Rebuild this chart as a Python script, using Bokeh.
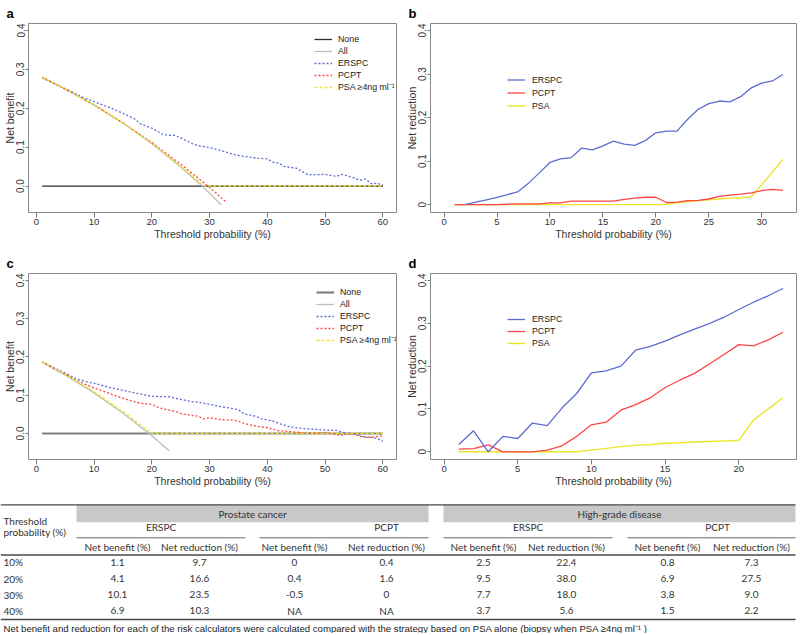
from bokeh.plotting import figure
from bokeh.models import Range1d, FixedTicker, Legend, LegendItem
from bokeh.layouts import column, row
from bokeh.embed import file_html
from bokeh.resources import INLINE
from bokeh.core.properties import value

# ---------------- data ----------------
# Panel a: prostate cancer, net benefit
a_none_x = [1, 60]
a_none_y = [0.0, 0.0]
a_all_x = [1, 5, 10, 15, 20, 25, 29, 32]
a_all_y = [0.280, 0.250, 0.208, 0.162, 0.109, 0.049, -0.004, -0.048]
a_erspc_x = [1, 5, 8, 10, 13, 15, 17, 18, 20, 22, 24, 25, 27, 28, 30, 32, 34, 36, 38, 40,
             41, 42, 43, 45, 47, 50, 52, 53, 55, 56, 57, 58, 59, 60]
a_erspc_y = [0.278, 0.250, 0.229, 0.217, 0.200, 0.187, 0.173, 0.160, 0.149, 0.132, 0.130, 0.124,
             0.109, 0.104, 0.099, 0.091, 0.082, 0.076, 0.072, 0.070, 0.061, 0.059, 0.050, 0.046,
             0.029, 0.030, 0.025, 0.030, 0.021, 0.015, 0.018, 0.006, 0.007, 0.003]
a_pcpt_x = [1, 5, 10, 15, 20, 25, 28, 30, 31, 32, 33]
a_pcpt_y = [0.280, 0.249, 0.209, 0.162, 0.112, 0.056, 0.021, -0.004, -0.016, -0.030, -0.043]
a_psa_x = [1, 5, 10, 15, 20, 25, 28, 29, 60]
a_psa_y = [0.280, 0.250, 0.209, 0.162, 0.111, 0.051, 0.014, 0.0, 0.0]

# Panel b: prostate cancer, net reduction
b_erspc_x = list(range(2, 33))
b_erspc_y = [0.0, 0.006, 0.011, 0.017, 0.023, 0.030, 0.050, 0.073, 0.097, 0.105, 0.108, 0.130,
             0.126, 0.135, 0.146, 0.139, 0.136, 0.147, 0.165, 0.169, 0.169, 0.196, 0.219, 0.232,
             0.238, 0.236, 0.248, 0.268, 0.279, 0.284, 0.299]
b_pcpt_x = list(range(1, 33))
b_pcpt_y = [0.0, 0.0, 0.0, 0.0, 0.0, 0.001, 0.002, 0.002, 0.002, 0.004, 0.004, 0.008, 0.008,
            0.008, 0.008, 0.008, 0.012, 0.015, 0.017, 0.017, 0.005, 0.006, 0.009, 0.010, 0.013,
            0.019, 0.022, 0.024, 0.027, 0.032, 0.035, 0.033]
b_psa_x = list(range(1, 33))
b_psa_y = [0.0, 0.0, 0.0, 0.0, 0.0, 0.0, 0.0, 0.0, 0.0, 0.0, 0.0, 0.0, 0.0, 0.0, 0.0, 0.0,
           0.0, 0.0, 0.0, 0.0, 0.001, 0.004, 0.007, 0.009, 0.011, 0.013, 0.015, 0.016, 0.018,
           0.046, 0.075, 0.104]

# Panel c: high-grade disease, net benefit
c_none_x = [1, 60]
c_none_y = [0.0, 0.0]
c_all_x = [1, 5, 10, 15, 20, 23]
c_all_y = [0.187, 0.153, 0.106, 0.053, -0.006, -0.045]
c_erspc_x = [1, 3, 5, 7, 9, 10, 12, 13, 15, 17, 19, 20, 23, 25, 27, 28, 30, 32, 34, 35, 36, 38,
             39, 40, 41, 42, 43, 44, 46, 48, 50, 52, 53, 54, 56, 57, 58, 59, 60]
c_erspc_y = [0.187, 0.172, 0.158, 0.142, 0.134, 0.131, 0.123, 0.119, 0.113, 0.106, 0.100, 0.097,
             0.096, 0.089, 0.083, 0.082, 0.076, 0.070, 0.065, 0.062, 0.051, 0.045, 0.038, 0.036,
             0.032, 0.026, 0.022, 0.017, 0.013, 0.011, 0.009, 0.008, 0.003, 0.0, -0.004, -0.010,
             -0.010, -0.013, -0.020]
c_pcpt_x = [1, 3, 5, 7, 9, 10, 12, 14, 16, 18, 20, 21, 22, 24, 25, 27, 28, 29, 30, 32, 34, 35,
            36, 38, 40, 41, 42, 44, 46, 48, 50, 51, 52, 53, 54, 55, 56, 58, 60]
c_pcpt_y = [0.187, 0.169, 0.155, 0.138, 0.125, 0.119, 0.108, 0.097, 0.087, 0.079, 0.076, 0.069,
            0.064, 0.058, 0.052, 0.047, 0.045, 0.038, 0.041, 0.036, 0.035, 0.032, 0.026, 0.019,
            0.015, 0.011, 0.007, 0.005, 0.002, 0.001, 0.003, 0.0, -0.003, -0.004, 0.0, -0.001,
            -0.008, -0.010, -0.006]
c_psa_x = [1, 5, 10, 15, 20, 60]
c_psa_y = [0.187, 0.155, 0.109, 0.057, 0.0, 0.0]

# Panel d: high-grade disease, net reduction
d_x = list(range(1, 24))
d_erspc_y = [0.017, 0.049, 0.0, 0.036, 0.031, 0.067, 0.061, 0.102, 0.136, 0.184, 0.189, 0.200,
             0.237, 0.246, 0.258, 0.273, 0.286, 0.299, 0.314, 0.332, 0.349, 0.364, 0.381]
d_pcpt_y = [0.006, 0.0075, 0.016, 0.0, 0.0, 0.0, 0.004, 0.014, 0.036, 0.063, 0.069, 0.097, 0.110,
            0.126, 0.150, 0.167, 0.183, 0.205, 0.227, 0.250, 0.247, 0.261, 0.279]
d_psa_y = [0.0, 0.0, 0.0, 0.0, 0.0, 0.0, 0.0, 0.0, 0.0, 0.004, 0.008, 0.012, 0.015, 0.017, 0.020,
           0.021, 0.023, 0.024, 0.025, 0.027, 0.074, 0.100, 0.126]

# Axis ticks
nb_xticks = [0, 10, 20, 30, 40, 50, 60]
b_xticks = [0, 5, 10, 15, 20, 25, 30]
d_xticks = [0, 5, 10, 15, 20]
yticks = [0.0, 0.1, 0.2, 0.3, 0.4]
nb_ylabels = ["0.0", "0.1", "0.2", "0.3", "0.4"]
nr_ylabels = ["0", "0.1", "0.2", "0.3", "0.4"]

# Table
tbl_thresholds = ["10%", "20%", "30%", "40%"]
pc_erspc_nb = ["1.1", "4.1", "10.1", "6.9"]
pc_erspc_nr = ["9.7", "16.6", "23.5", "10.3"]
pc_pcpt_nb = ["0", "0.4", "-0.5", "NA"]
pc_pcpt_nr = ["0.4", "1.6", "0", "NA"]
hg_erspc_nb = ["2.5", "9.5", "7.7", "3.7"]
hg_erspc_nr = ["22.4", "38.0", "18.0", "5.6"]
hg_pcpt_nb = ["0.8", "6.9", "3.8", "1.5"]
hg_pcpt_nr = ["7.3", "27.5", "9.0", "2.2"]
footnote = ("Net benefit and reduction for each of the risk calculators were calculated compared "
            "with the strategy based on PSA alone (biopsy when PSA \u22654ng ml\u207b\u00b9 )")

# ---------------- styling ----------------
BLUE = "#5c6cd2"
RED = "#ff4545"
YELLOW = "#ece62a"
GRAY = "#bdbdbd"
FONT = "Liberation Sans"
TFONT = "Lato"


def base_fig(width, height, xr, yr, borders, xticks, ylabels, ylabel, letter):
    left, right, top, bottom = borders
    p = figure(width=width, height=height, x_range=Range1d(*xr), y_range=Range1d(*yr),
               output_backend="svg", toolbar_location=None,
               min_border_left=left, min_border_right=right,
               min_border_top=top, min_border_bottom=bottom)
    p.grid.visible = False
    p.outline_line_color = "#8a8a8a"
    p.outline_line_width = 1
    p.background_fill_color = "white"
    p.border_fill_color = "white"

    xa = p.xaxis[0]
    xa.ticker = FixedTicker(ticks=xticks)
    xa.axis_line_color = None
    xa.major_tick_line_color = "#7a7a7a"
    xa.major_tick_out = 5
    xa.major_tick_in = 0
    xa.minor_tick_line_color = None
    xa.major_label_text_font = FONT
    xa.major_label_text_font_size = "9.5px"
    xa.major_label_text_color = "#333333"
    xa.major_label_standoff = 1
    xa.axis_label = "Threshold probability (%)"
    xa.axis_label_text_font = FONT
    xa.axis_label_text_font_size = "10.5px"
    xa.axis_label_text_font_style = "normal"
    xa.axis_label_text_color = "#333333"
    xa.axis_label_standoff = 0

    ya = p.yaxis[0]
    ya.ticker = FixedTicker(ticks=yticks)
    ya.major_label_overrides = {t: l for t, l in zip(yticks, ylabels)}
    ya.axis_line_color = None
    ya.major_tick_line_color = "#7a7a7a"
    ya.major_tick_out = 3
    ya.major_tick_in = 0
    ya.minor_tick_line_color = None
    ya.major_label_orientation = "vertical"
    ya.major_label_text_font = FONT
    ya.major_label_text_font_size = "10px"
    ya.major_label_text_color = "#333333"
    ya.major_label_standoff = 1
    ya.axis_label = ylabel
    ya.axis_label_text_font = FONT
    ya.axis_label_text_font_size = "10.5px"
    ya.axis_label_text_font_style = "normal"
    ya.axis_label_text_color = "#333333"
    ya.axis_label_standoff = -2

    p.title.text = letter
    p.title.align = "left"
    p.title.offset = -22
    p.title.standoff = 6
    p.title.text_font = FONT
    p.title.text_font_size = "13px"
    p.title.text_font_style = "bold"
    p.title.text_color = "black"
    return p


def add_legend(p, items, loc, row_h, standoff):
    leg = Legend(items=items, location=loc, orientation="vertical",
                 border_line_color=None, background_fill_alpha=0,
                 label_text_font=FONT, label_text_font_size="8.8px",
                 label_text_color="#222222",
                 glyph_width=18, glyph_height=row_h, label_height=row_h, spacing=0,
                 padding=0, margin=0, label_standoff=standoff)
    p.add_layout(leg)


# ---------------- panel a ----------------
pa = base_fig(400, 250, (-1.36, 62.36), (-0.068, 0.418), (27, 4, 21, 38),
              nb_xticks, nb_ylabels, "Net benefit", "a")
ra_none = pa.line(a_none_x, a_none_y, line_color="#2b2b2b", line_width=1.3)
ra_all = pa.line(a_all_x, a_all_y, line_color=GRAY, line_width=1.3)
ra_erspc = pa.line(a_erspc_x, a_erspc_y, line_color=BLUE, line_width=1.3, line_dash="2 2")
ra_pcpt = pa.line(a_pcpt_x, a_pcpt_y, line_color=RED, line_width=1.3, line_dash="2 2")
ra_psa = pa.line(a_psa_x, a_psa_y, line_color=YELLOW, line_width=1.4, line_dash="3 2")
add_legend(pa, [LegendItem(label="None", renderers=[ra_none]),
                LegendItem(label="All", renderers=[ra_all]),
                LegendItem(label="ERSPC", renderers=[ra_erspc]),
                LegendItem(label="PCPT", renderers=[ra_pcpt]),
                LegendItem(label="PSA \u22654ng ml\u207b\u00b9", renderers=[ra_psa])],
           (286, 119), 12, 6)

# ---------------- panel b ----------------
pb = base_fig(398, 250, (-1.28, 33.28), (-0.018, 0.416), (30, 2, 21, 37),
              b_xticks, nr_ylabels, "Net reduction", "b")
rb_psa = pb.line(b_psa_x, b_psa_y, line_color=YELLOW, line_width=1.4)
rb_pcpt = pb.line(b_pcpt_x, b_pcpt_y, line_color=RED, line_width=1.3)
rb_erspc = pb.line(b_erspc_x, b_erspc_y, line_color=BLUE, line_width=1.3)
add_legend(pb, [LegendItem(label="ERSPC", renderers=[rb_erspc]),
                LegendItem(label="PCPT", renderers=[rb_pcpt]),
                LegendItem(label="PSA", renderers=[rb_psa])],
           (77, 100), 13, 7)

# ---------------- panel c ----------------
pc = base_fig(400, 245, (-1.36, 62.36), (-0.068, 0.418), (27, 4, 18, 36),
              nb_xticks, nb_ylabels, "Net benefit", "c")
rc_none = pc.line(c_none_x, c_none_y, line_color="#808080", line_width=2.2)
rc_all = pc.line(c_all_x, c_all_y, line_color=GRAY, line_width=1.3)
rc_erspc = pc.line(c_erspc_x, c_erspc_y, line_color=BLUE, line_width=1.3, line_dash="2 2")
rc_pcpt = pc.line(c_pcpt_x, c_pcpt_y, line_color=RED, line_width=1.3, line_dash="2 2")
rc_psa = pc.line(c_psa_x, c_psa_y, line_color=YELLOW, line_width=1.4, line_dash="3 2")
add_legend(pc, [LegendItem(label="None", renderers=[rc_none]),
                LegendItem(label="All", renderers=[rc_all]),
                LegendItem(label="ERSPC", renderers=[rc_erspc]),
                LegendItem(label="PCPT", renderers=[rc_pcpt]),
                LegendItem(label="PSA \u22654ng ml\u207b\u00b9", renderers=[rc_psa])],
           (288, 113), 12, 6)

# ---------------- panel d ----------------
pd_ = base_fig(398, 245, (-0.92, 23.92), (-0.018, 0.416), (30, 2, 18, 36),
               d_xticks, nr_ylabels, "Net reduction", "d")
rd_psa = pd_.line(d_x, d_psa_y, line_color=YELLOW, line_width=1.4)
rd_pcpt = pd_.line(d_x, d_pcpt_y, line_color=RED, line_width=1.3)
rd_erspc = pd_.line(d_x, d_erspc_y, line_color=BLUE, line_width=1.3)
add_legend(pd_, [LegendItem(label="ERSPC", renderers=[rd_erspc]),
                 LegendItem(label="PCPT", renderers=[rd_pcpt]),
                 LegendItem(label="PSA", renderers=[rd_psa])],
           (77, 110), 12, 7)

# ---------------- table ----------------
TW, TH = 798, 138
pt = figure(width=TW, height=TH, x_range=Range1d(0, TW), y_range=Range1d(TH, 0),
            output_backend="svg", toolbar_location=None, min_border=0,
            x_axis_location=None, y_axis_location=None)
pt.grid.visible = False
pt.outline_line_color = None
pt.background_fill_color = "white"
pt.border_fill_color = "white"

# layout constants (pixel positions inside the table panel)
band_left = [76, 443]
band_right = [428, 795]
band_top, band_bot = 9.3, 26.7
y_top_line = 9.3
y_group = 31.7
y_underline = 42.3
y_sub = 51.7
y_sub_line = 59.5
row_y = [66.7, 83.3, 99.3, 115]
y_bottom_line = 124
y_foot = 133
col_x = [117, 199, 294, 386, 483, 566, 667, 751]

pt.quad(left=band_left, right=band_right, top=[band_top] * 2, bottom=[band_bot] * 2,
        fill_color="#c8c8c8", line_color=None)
pt.text(x=[(band_left[0] + band_right[0]) / 2, (band_left[1] + band_right[1]) / 2],
        y=[(band_top + band_bot) / 2] * 2, text=["Prostate cancer", "High-grade disease"],
        text_font=value(TFONT), text_font_size=value("10px"), text_color="#333333",
        text_align="center", text_baseline="middle")
pt.segment(x0=[0, 0, 0], x1=[795, 795, 795], y0=[y_top_line, y_sub_line, y_bottom_line],
           y1=[y_top_line, y_sub_line, y_bottom_line], line_color="#4a4a4a", line_width=1.3)
pt.segment(x0=[76, 259, 443, 627], x1=[245, 428, 612, 795], y0=[y_underline] * 4,
           y1=[y_underline] * 4, line_color="#6a6a6a", line_width=1)
pt.text(x=[3, 3], y=[25, 36.7], text=["Threshold", "probability (%)"],
        text_font=value(TFONT), text_font_size=value("10px"), text_color="#333333",
        text_align="left", text_baseline="middle")
pt.text(x=[160.5, 386, 527.5, 717], y=[y_group] * 4, text=["ERSPC", "PCPT", "ERSPC", "PCPT"],
        text_font=value(TFONT), text_font_size=value("10px"), text_color="#333333",
        text_align="center", text_baseline="middle")
pt.text(x=col_x, y=[y_sub] * 8,
        text=["Net benefit (%)", "Net reduction (%)"] * 4,
        text_font=value(TFONT), text_font_size=value("10px"), text_color="#333333",
        text_align="center", text_baseline="middle")
pt.text(x=[3] * 4, y=row_y, text=tbl_thresholds,
        text_font=value(TFONT), text_font_size=value("10px"), text_color="#333333",
        text_align="left", text_baseline="middle")
columns = [pc_erspc_nb, pc_erspc_nr, pc_pcpt_nb, pc_pcpt_nr,
           hg_erspc_nb, hg_erspc_nr, hg_pcpt_nb, hg_pcpt_nr]
for cx, vals in zip(col_x, columns):
    pt.text(x=[cx] * len(vals), y=row_y, text=vals,
            text_font=value(TFONT), text_font_size=value("10px"), text_color="#333333",
            text_align="center", text_baseline="middle")
pt.text(x=[3], y=[y_foot], text=[footnote],
        text_font=value(FONT), text_font_size=value("9.6px"), text_color="#222222",
        text_align="left", text_baseline="middle")

layout = column(row(pa, pb, spacing=0), row(pc, pd_, spacing=0), pt, spacing=0)

with open("out.html", "w") as f:
    f.write(file_html(layout, INLINE))
